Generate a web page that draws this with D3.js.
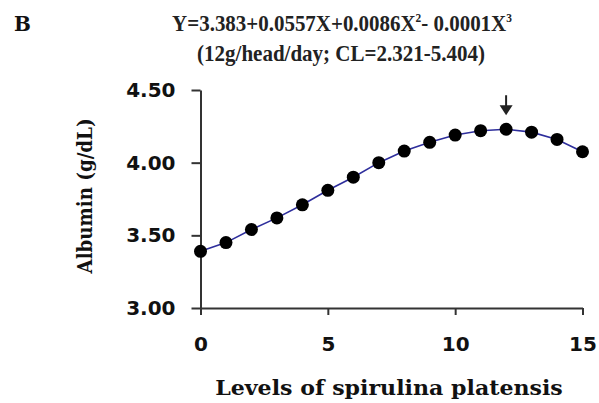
<!DOCTYPE html>
<html><head><meta charset="utf-8">
<script src="https://cdn.jsdelivr.net/npm/d3@7"></script>
<style>html,body{margin:0;padding:0;background:#fff;}</style>
</head><body>
<svg id="chart" width="599" height="403"></svg>
<script>
const levels = [0,1,2,3,4,5,6,7,8,9,10,11,12,13,14,15];
const albumin = [3.39,3.45,3.54,3.62,3.71,3.81,3.90,4.00,4.08,4.14,4.19,4.22,4.23,4.21,4.16,4.075];
const yTicks = [3.00,3.50,4.00,4.50];
const xTicks = [0,5,10,15];
const optimum = 12;
const panelLabel = "B";
const equationParts = ["Y=3.383+0.0557X+0.0086X","2","- 0.0001X","3"];
const subtitle = "(12g/head/day; CL=2.321-5.404)";
const xTitle = "Levels of spirulina platensis";
const yTitle = "Albumin (g/dL)";

const svg = d3.select("#chart");
const x = d3.scaleLinear().domain([0,15]).range([200.5,582.5]);
const y = d3.scaleLinear().domain([3,4.5]).range([308,90]);

const axisColor = "#333";
const ya = svg.append("g").attr("transform","translate(200.5,0)")
  .call(d3.axisLeft(y).tickValues(yTicks).tickFormat(d3.format(".2f")).tickSizeInner(9).tickSizeOuter(0).tickPadding(16));
const xa = svg.append("g").attr("transform","translate(0,308)")
  .call(d3.axisBottom(x).tickValues(xTicks).tickFormat(d3.format("d")).tickSizeInner(7).tickSizeOuter(0).tickPadding(22));
[ya,xa].forEach(a=>{
  a.selectAll("path,line").attr("stroke",axisColor).attr("stroke-width",2);
  a.selectAll("text").attr("fill","#111").style("font-family","'DejaVu Sans'").style("font-weight","bold").style("font-size","20px");
});

svg.append("path").datum(levels.map((l,i)=>[l,albumin[i]]))
  .attr("fill","none").attr("stroke","#2e2e9c").attr("stroke-width",1.6)
  .attr("d", d3.line().x(d=>x(d[0])).y(d=>y(d[1])));
svg.selectAll("circle.pt").data(levels).enter().append("circle")
  .attr("class","pt").attr("cx",d=>x(d)).attr("cy",(d,i)=>y(albumin[i])).attr("r",6.5).attr("fill","#000");

const ax = x(optimum);
const ay = y(albumin[levels.indexOf(optimum)]);
svg.append("line").attr("x1",ax).attr("x2",ax).attr("y1",ay-34).attr("y2",ay-20).attr("stroke","#222").attr("stroke-width",2);
svg.append("path").attr("d",`M${ax-6.5},${ay-24} L${ax+6.5},${ay-24} L${ax},${ay-14} Z`).attr("fill","#222");

const serif = "'DejaVu Serif'";
svg.append("text").attr("x",14).attr("y",31).text(panelLabel)
  .style("font-family",serif).style("font-weight","bold").style("font-size","20px").attr("fill","#111");

function fitText(sel, cx, cy, targetW){
  const w = sel.node().getComputedTextLength();
  const s = targetW / w;
  sel.attr("text-anchor","middle").attr("transform",`translate(${cx},${cy}) scale(${s},1)`);
}

const eq = svg.append("text").attr("x",0).attr("y",0)
  .style("font-family","'Liberation Serif'").style("font-weight","bold").style("font-size","24px").attr("fill","#222");
eq.append("tspan").text(equationParts[0]);
eq.append("tspan").attr("dy",-9).style("font-size","13px").text(equationParts[1]);
eq.append("tspan").attr("dy",9).text(equationParts[2]);
eq.append("tspan").attr("dy",-9).style("font-size","13px").text(equationParts[3]);
fitText(eq, 342, 31, 340);

const sub = svg.append("text").attr("x",0).attr("y",0)
  .style("font-family","'Liberation Serif'").style("font-weight","bold").style("font-size","24px").attr("fill","#222")
  .text(subtitle);
fitText(sub, 341, 61, 288);

const xt = svg.append("text").attr("x",0).attr("y",0)
  .style("font-family",serif).style("font-weight","bold").style("font-size","21px").attr("fill","#111").text(xTitle);
fitText(xt, 389, 395, 348);

svg.append("text").attr("transform","translate(92,196) rotate(-90)").attr("text-anchor","middle")
  .style("font-family",serif).style("font-weight","bold").style("font-size","20px").attr("fill","#111")
  .attr("textLength",155).attr("lengthAdjust","spacingAndGlyphs").text(yTitle);
</script>
</body></html>
